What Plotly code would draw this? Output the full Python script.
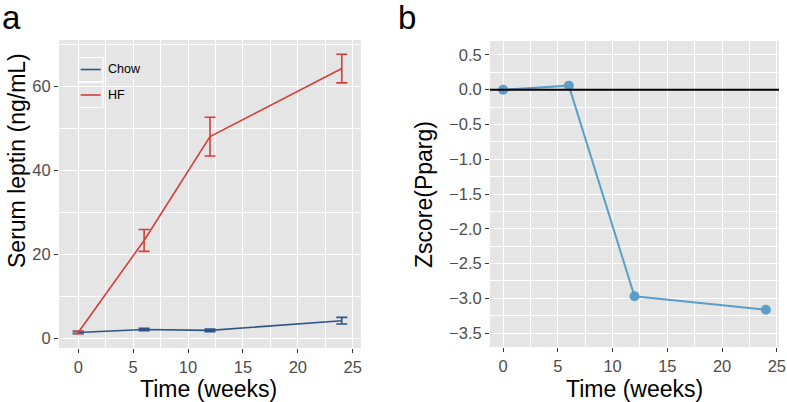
import plotly.graph_objects as go

# ---- data ----
weeks = [0, 6, 12, 24]
hf_leptin = [1.4, 23.3, 48.0, 64.2]
hf_err = [0.3, 2.6, 4.6, 3.4]
chow_leptin = [1.4, 2.1, 1.9, 4.2]
chow_err = [0.25, 0.3, 0.3, 0.8]
zscore = [0.0, 0.058, -2.97, -3.165]
x_ticks = [0, 5, 10, 15, 20, 25]
leptin_ticks = [0, 20, 40, 60]
z_ticks = [0.5, 0.0, -0.5, -1.0, -1.5, -2.0, -2.5, -3.0, -3.5]
z_ticktext = ["0.5", "0.0", "\u22120.5", "\u22121.0", "\u22121.5", "\u22122.0", "\u22122.5", "\u22123.0", "\u22123.5"]
series_names = ["Chow", "HF"]

CHOW = "#2E5586"
HF = "#D43F3A"
ZC = "#5B9FC8"
FONT = "Liberation Sans, Arial, sans-serif"
W, H = 787, 402

def px(x):
    return x / W

def py(y):
    return 1 - y / H

fig = go.Figure()
fig.add_trace(go.Scatter(x=weeks, y=chow_leptin, mode="lines", name=series_names[0], showlegend=False,
                         line=dict(color=CHOW, width=1.6),
                         error_y=dict(type="data", array=chow_err, color=CHOW, thickness=1.6, width=5.5),
                         xaxis="x", yaxis="y"))
fig.add_trace(go.Scatter(x=weeks, y=hf_leptin, mode="lines", name=series_names[1], showlegend=False,
                         line=dict(color=HF, width=1.6),
                         error_y=dict(type="data", array=hf_err, color=HF, thickness=1.6, width=5.5),
                         xaxis="x", yaxis="y"))
fig.add_trace(go.Scatter(x=weeks, y=zscore, mode="lines+markers", showlegend=False,
                         line=dict(color=ZC, width=2), marker=dict(color=ZC, size=10),
                         xaxis="x2", yaxis="y2"))

grid = dict(showgrid=True, gridcolor="white", gridwidth=1.3, zeroline=False, automargin=False,
            ticks="outside", ticklen=4, tickcolor="#333333", tickwidth=1.2,
            tickfont=dict(size=16.5, color="#4D4D4D", family=FONT), showline=False)

minor_style = dict(showgrid=True, gridcolor="white", gridwidth=0.6, ticks="")

shapes = [dict(type="line", xref="x2 domain", x0=0, x1=1, yref="y2", y0=0, y1=0,
               line=dict(color="black", width=2), layer="above")]
# manual legend keys (panel a)
key_boxes = [(57.5, 81.5), (82.5, 107.5)]
key_cols = [CHOW, HF]
annotations = []
for (y0, y1), col, name in zip(key_boxes, key_cols, series_names):
    shapes.append(dict(type="rect", xref="paper", yref="paper", x0=px(78.5), x1=px(103), y0=py(y1), y1=py(y0),
                       line=dict(color="white", width=1.2), fillcolor="#E5E5E5", layer="between"))
    yc = (y0 + y1) / 2
    shapes.append(dict(type="line", xref="paper", yref="paper", x0=px(80.7), x1=px(100.7), y0=py(yc), y1=py(yc),
                       line=dict(color=col, width=1.6), layer="between"))
    annotations.append(dict(text=name, x=px(106), y=py(yc), xref="paper", yref="paper", xanchor="left",
                            yanchor="middle", showarrow=False, font=dict(size=12.5, family=FONT, color="black")))

title_font = dict(size=23, family=FONT, color="black")
annotations += [
    dict(text="a", x=px(0), y=py(-3), xref="paper", yref="paper", xanchor="left", yanchor="top",
         showarrow=False, font=dict(size=33, family=FONT)),
    dict(text="b", x=px(396), y=py(-3), xref="paper", yref="paper", xanchor="left", yanchor="top",
         showarrow=False, font=dict(size=33, family=FONT)),
    dict(text="Time (weeks)", x=px(208), y=py(389), xref="paper", yref="paper", xanchor="center",
         yanchor="middle", showarrow=False, font=title_font),
    dict(text="Time (weeks)", x=px(634.5), y=py(389), xref="paper", yref="paper", xanchor="center",
         yanchor="middle", showarrow=False, font=title_font),
    dict(text="Serum leptin (ng/mL)", x=px(17), y=py(161), xref="paper", yref="paper", xanchor="center",
         yanchor="middle", textangle=-90, showarrow=False, font=title_font),
    dict(text="Zscore(Pparg)", x=px(424), y=py(194), xref="paper", yref="paper", xanchor="center",
         yanchor="middle", textangle=-90, showarrow=False, font=title_font),
]

fig.update_layout(
    width=W, height=H, margin=dict(l=0, r=0, t=0, b=0),
    paper_bgcolor="white", plot_bgcolor="#E5E5E5",
    font=dict(family=FONT, color="black"),
    xaxis=dict(domain=[px(59), px(361)], range=[-1.75, 25.75], tickvals=x_ticks,
               minor=dict(dtick=2.5, tick0=0, **minor_style), anchor="y", **grid),
    yaxis=dict(domain=[py(348), py(40)], range=[-2.3, 71], tickvals=leptin_ticks,
               minor=dict(dtick=10, tick0=0, **minor_style), anchor="x", **grid),
    xaxis2=dict(domain=[px(490), px(779)], range=[-1.2, 25.2], tickvals=x_ticks,
                minor=dict(dtick=2.5, tick0=0, **minor_style), anchor="y2", **grid),
    yaxis2=dict(domain=[py(347), py(41)], range=[-3.7, 0.7], tickvals=z_ticks, ticktext=z_ticktext,
                minor=dict(dtick=0.25, tick0=0, **minor_style), anchor="x2", **grid),
    showlegend=False,
    shapes=shapes,
    annotations=annotations,
)

fig.write_html("out.html", config={"displayModeBar": False},
               post_script="document.body.style.margin='0';document.body.style.overflow='hidden';")
